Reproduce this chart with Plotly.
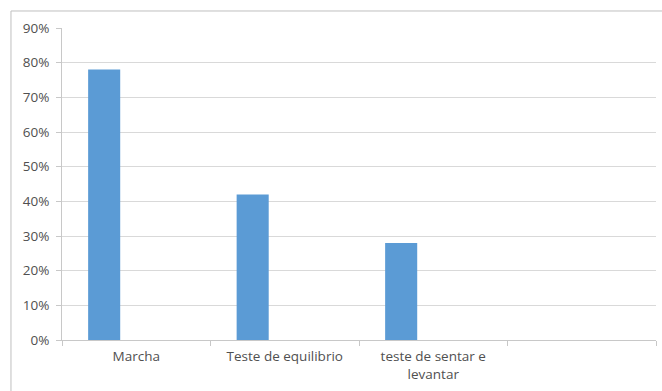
import plotly.graph_objects as go

categories = ["Marcha", "Teste de equilibrio", "teste de sentar e<br>levantar", " "]
values = [0.78, 0.42, 0.28, None]
y_ticks = [0, 0.1, 0.2, 0.3, 0.4, 0.5, 0.6, 0.7, 0.8, 0.9]

fig = go.Figure()
fig.add_trace(go.Bar(
    x=categories,
    y=values,
    width=0.216,
    offset=-0.324,
    marker=dict(color="#5B9BD5", line=dict(width=0)),
    showlegend=False,
))

axis_font = dict(family="Open Sans, Liberation Sans, Arial, sans-serif", size=13.5, color="#505050")

fig.update_layout(
    width=662,
    height=391,
    margin=dict(l=62, r=6, t=28, b=51),
    paper_bgcolor="white",
    plot_bgcolor="white",
    xaxis=dict(
        type="category",
        range=[-0.5, 3.5],
        showgrid=False,
        showline=True,
        linecolor="#c8c8c8",
        linewidth=1,
        ticks="outside",
        tickson="boundaries",
        ticklen=5,
        tickcolor="#c8c8c8",
        tickfont=axis_font,
        ticklabelstandoff=4,
    ),
    yaxis=dict(
        range=[0, 0.9],
        tickvals=y_ticks,
        tickformat=".0%",
        showgrid=True,
        gridcolor="#d9d9d9",
        gridwidth=1,
        showline=True,
        linecolor="#c8c8c8",
        linewidth=1,
        ticks="outside",
        ticklen=5,
        tickcolor="#c8c8c8",
        tickfont=axis_font,
        ticklabelstandoff=4,
        zeroline=False,
    ),
    shapes=[
        dict(type="rect", xref="paper", yref="paper",
             x0=-0.0859, y0=-0.3, x1=1.2, y1=1.0545,
             line=dict(color="#bfbfbf", width=1), fillcolor="rgba(0,0,0,0)",
             layer="below"),
    ],
)

fig.write_html("out.html")
